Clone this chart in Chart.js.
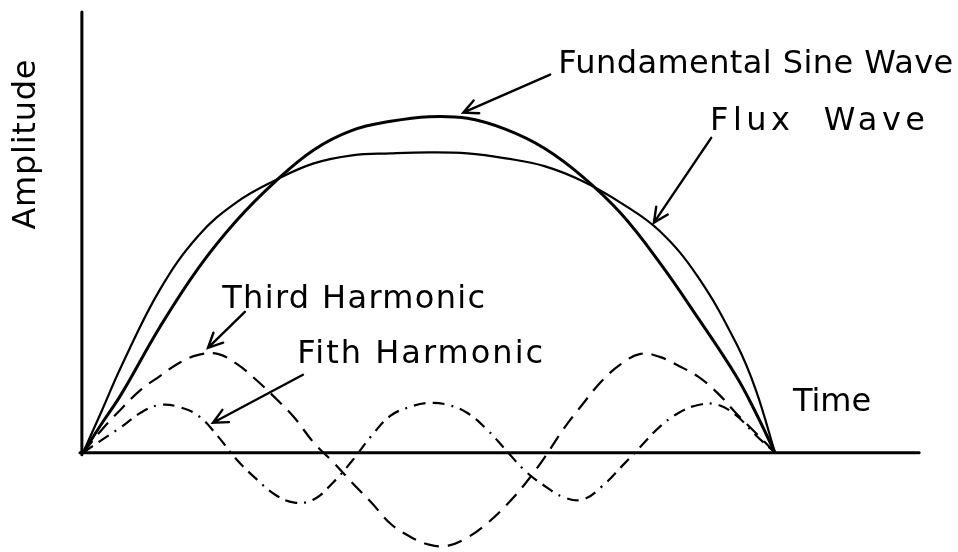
<!DOCTYPE html>
<html>
<head>
<meta charset="utf-8">
<title>Flux wave and harmonics</title>
<script src="https://cdn.jsdelivr.net/npm/chart.js@4.4.1/dist/chart.umd.min.js"></script>
<style>
  html, body { margin: 0; padding: 0; background: #fff; }
  #wrap { width: 958px; height: 552px; }
</style>
</head>
<body>
<div id="wrap"><canvas id="waveChart"></canvas></div>
<script>
// angle in degrees over one half period, amplitude in % of the fundamental peak
const mainAngles = [0, 5, 10, 20, 30, 40, 50, 60, 70, 80, 90, 100, 110, 120, 130, 140, 150, 160, 170, 175, 180];
const fundamental = [0, 8.9, 17.5, 37.4, 54.9, 69.1, 80.6, 90.0, 95.8, 98.5, 99.9, 99.4, 96.1, 90.5, 82.0, 71.0, 56.5, 40.0, 22.6, 11.9, 0];
const fluxWave = [0, 12.8, 25.8, 48.5, 64.5, 74.5, 81.0, 86.0, 88.4, 89.0, 89.3, 89.0, 87.5, 85.2, 80.7, 74.2, 65.9, 52.2, 32.3, 18.7, 0];

const harmonicAngles = [0, 5, 10, 15, 20, 25, 30, 35, 40, 45, 50, 55, 60, 65, 70, 75, 80, 85, 90,
  95, 100, 105, 110, 115, 120, 125, 130, 135, 140, 145, 150, 155, 160, 165, 170, 175, 180];
const thirdHarmonic = [0, 7.0, 13.1, 18.7, 22.8, 26.7, 29.1, 29.4, 26.4, 21.7, 16.3, 10.4, 3.0, -2.7, -8.9, -14.8, -21.1, -24.9, -27.3,
  -27.6, -25.2, -21.1, -15.7, -9.2, -1.5, 7.1, 14.5, 21.4, 26.4, 29.4, 28.5, 25.8, 22.6, 17.8, 11.6, 5.9, 0];
const fifthHarmonic = [0, 3.9, 7.7, 11.9, 14.2, 13.6, 11.0, 5.0, -2.1, -7.7, -12.5, -14.8, -13.9, -8.9, -2.4, 5.0, 11.0, 13.6, 14.8,
  14.2, 11.8, 7.0, 0.8, -5.4, -9.8, -13.2, -13.9, -10.0, -4.2, 1.8, 7.7, 11.9, 14.2, 14.3, 11.0, 5.2, 0];

// hand lettering and pointers, placed in data units
const labels = [
  { text: 'Fundamental Sine Wave', x: 123.6, y: 113.0, width: 395 },
  { text: 'Flux  Wave', x: 163.1, y: 96.0, width: 215 },
  { text: 'Third Harmonic', x: 36.2, y: 43.1, width: 263 },
  { text: 'Fith Harmonic', x: 55.7, y: 26.8, width: 246 },
  { text: 'Time', x: 184.7, y: 12.5, width: 78 }
];
const arrows = [
  { from: [121.5, 112.4], to: [98.9, 101.1] },
  { from: [163.4, 93.6], to: [148.5, 68.4] },
  { from: [42.1, 41.9], to: [32.5, 31.2] },
  { from: [57.2, 23.2], to: [33.8, 8.9] }
];

function toPoints(xs, ys) {
  return xs.map((x, i) => ({ x: x, y: ys[i] }));
}

function drawArrow(ctx, x0, y0, x1, y1) {
  const ang = Math.atan2(y1 - y0, x1 - x0);
  const len = 16;
  ctx.beginPath();
  ctx.moveTo(x0, y0);
  ctx.lineTo(x1, y1);
  ctx.moveTo(x1 - len * Math.cos(ang - 0.45), y1 - len * Math.sin(ang - 0.45));
  ctx.lineTo(x1, y1);
  ctx.lineTo(x1 - len * Math.cos(ang + 0.45), y1 - len * Math.sin(ang + 0.45));
  ctx.stroke();
}

function fitText(ctx, text, x, y, width) {
  ctx.letterSpacing = '0px';
  const w = ctx.measureText(text).width;
  const gap = (width - w) / Math.max(text.length - 1, 1);
  ctx.letterSpacing = gap.toFixed(2) + 'px';
  ctx.fillText(text, x, y);
  ctx.letterSpacing = '0px';
}

const sketchExtras = {
  id: 'sketchExtras',
  afterDraw(chart) {
    const { ctx, scales: { x, y } } = chart;
    ctx.save();
    ctx.strokeStyle = '#000';
    ctx.fillStyle = '#000';
    ctx.lineCap = 'round';

    // axes
    ctx.lineWidth = 3;
    ctx.beginPath();
    ctx.moveTo(x.getPixelForValue(-0.3), y.getPixelForValue(131));
    ctx.lineTo(x.getPixelForValue(-0.3), y.getPixelForValue(-0.6));
    ctx.moveTo(x.getPixelForValue(-0.8), y.getPixelForValue(0));
    ctx.lineTo(x.getPixelForValue(217.5), y.getPixelForValue(0));
    ctx.stroke();

    // pointers
    ctx.lineWidth = 2.4;
    arrows.forEach(a => {
      drawArrow(ctx,
        x.getPixelForValue(a.from[0]), y.getPixelForValue(a.from[1]),
        x.getPixelForValue(a.to[0]), y.getPixelForValue(a.to[1]));
    });

    // lettering
    ctx.font = '32px "DejaVu Sans"';
    ctx.textBaseline = 'alphabetic';
    ctx.textAlign = 'left';
    labels.forEach(l => {
      fitText(ctx, l.text, x.getPixelForValue(l.x), y.getPixelForValue(l.y), l.width);
    });

    // vertical axis title
    ctx.translate(x.getPixelForValue(-14.6), y.getPixelForValue(91.6));
    ctx.rotate(-Math.PI / 2);
    ctx.textAlign = 'left';
    ctx.textBaseline = 'middle';
    fitText(ctx, 'Amplitude', -85, 0, 170);
    ctx.restore();
  }
};

const ctx = document.getElementById('waveChart').getContext('2d');
new Chart(ctx, {
  type: 'line',
  data: {
    datasets: [{
      label: 'Fundamental Sine Wave',
      data: toPoints(mainAngles, fundamental),
      borderColor: '#000',
      borderWidth: 3
    }, {
      label: 'Flux Wave',
      data: toPoints(mainAngles, fluxWave),
      borderColor: '#000',
      borderWidth: 2.2
    }, {
      label: 'Third Harmonic',
      data: toPoints(harmonicAngles, thirdHarmonic),
      borderColor: '#000',
      borderWidth: 2.2,
      borderDash: [15, 9]
    }, {
      label: 'Fith Harmonic',
      data: toPoints(harmonicAngles, fifthHarmonic),
      borderColor: '#000',
      borderWidth: 2.2,
      borderDash: [12, 7, 12, 7, 2, 7]
    }]
  },
  options: {
    responsive: true,
    maintainAspectRatio: false,
    animation: false,
    layout: { padding: { top: 12, left: 0, right: 0, bottom: 0 } },
    elements: {
      point: { radius: 0 },
      line: { tension: 0.4, capBezierPoints: true }
    },
    plugins: {
      legend: { display: false },
      tooltip: { enabled: false }
    },
    scales: {
      x: { type: 'linear', min: -21.6, max: 227.6, display: false },
      y: { min: -29.5, max: 131, display: false }
    }
  },
  plugins: [sketchExtras]
});
</script>
</body>
</html>
